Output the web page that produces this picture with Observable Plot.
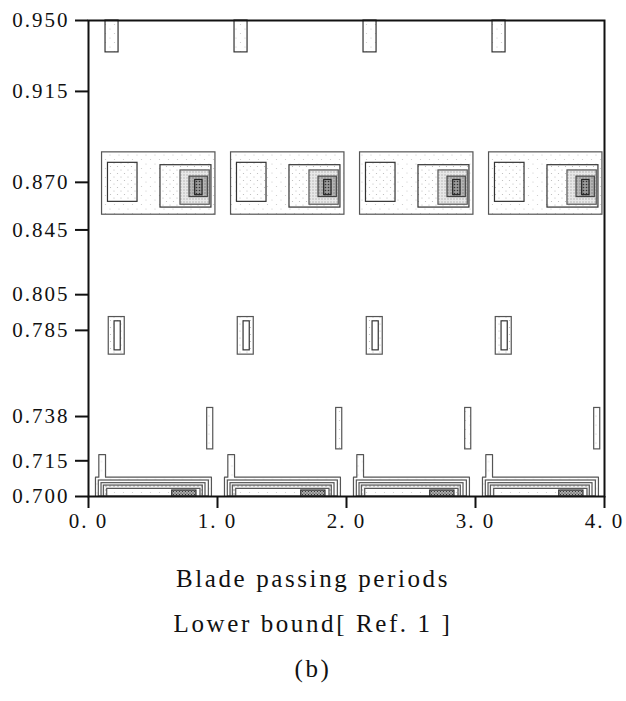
<!DOCTYPE html>
<html>
<head>
<meta charset="utf-8">
<script src="https://cdn.jsdelivr.net/npm/d3@7"></script>
<script src="https://cdn.jsdelivr.net/npm/@observablehq/plot@0.6"></script>
<style>
  html, body { margin: 0; padding: 0; background: #fff; }
  #chart svg { display: block; }
  #chart svg [aria-label="y-axis tick"] path,
  #chart svg [aria-label="x-axis tick"] path { stroke-width: 2px; }
  .cap { width: 626px; text-align: center; height: 45px; line-height: 45px;
         font-family: "Liberation Serif", serif; font-size: 25px; letter-spacing: 2.6px; color: #111; }
  #caps { margin-top: 16px; }
</style>
</head>
<body>
<div id="chart"></div>
<div id="caps">
  <div class="cap">Blade passing periods</div>
  <div class="cap">Lower bound[ Ref. 1 ]</div>
  <div class="cap">(b)</div>
</div>
<script>
// ---- Data ----
// Blade passing periods shown (start of each period)
const periods = [0, 1, 2, 3];

// x-axis ticks
const xTickValues = [0, 1, 2, 3, 4];
const xTickLabels = ["0. 0", "1. 0", "2. 0", "3. 0", "4. 0"];

// y-axis: labelled radii placed at their radial grid station (% of span, hub=0, top=100)
const yTickLabels  = ["0.700", "0.715", "0.738", "0.785", "0.805", "0.845", "0.870", "0.915", "0.950"];
const yTickStation = [0, 7.5, 16.8, 34.9, 42.4, 56.0, 66.0, 85.1, 100];

// Contour rectangles within one blade passing period:
// [phase start, phase end, station low, station high]
const tipContour     = [0.132, 0.233, 93.3, 100];
const midOuter       = [0.105, 0.984, 59.2, 72.3];
const midLeft        = [0.151, 0.380, 61.9, 70.1];
const midRight       = [0.558, 0.953, 60.7, 69.6];
const midLevel3      = [0.713, 0.940, 61.3, 68.5];
const midLevel4      = [0.783, 0.925, 62.9, 67.2];
const midPeak        = [0.827, 0.884, 63.3, 66.5];
const ringOuter      = [0.157, 0.281, 29.8, 37.7];
const ringInner      = [0.202, 0.250, 30.7, 36.8];
const thinBar        = [0.920, 0.967, 9.9, 18.6];
const hubLevel2      = [0.080, 0.933, 0, 3.36];
const hubLevel3      = [0.101, 0.907, 0, 2.8];
const hubLevel4      = [0.119, 0.886, 0, 2.3];
const hubLevel5      = [0.145, 0.868, 0, 1.6];
const hubPeak        = [0.649, 0.837, 0, 1.26];

// Outermost hub contour (polygon with the small spike), [phase, station]
const hubOuterPhase   = [0.054, 0.054, 0.080, 0.080, 0.132, 0.132, 0.953, 0.953];
const hubOuterStation = [0, 4.05, 4.05, 8.8, 8.8, 4.05, 4.05, 0];

// ---- Styles (kept apart from data) ----
const ink = "#333";
const rectStyles = [
  [tipContour, "url(#pDotsA)", ink],
  [midOuter,   "url(#pDotsA)", "#555"],
  [midLeft,    "url(#pDotsB)", ink],
  [midRight,   "url(#pDotsB)", ink],
  [midLevel3,  "url(#pFine)",  "#555"],
  [midLevel4,  "url(#pDark)",  "#444"],
  [midPeak,    "url(#pPeak)",  "#222"],
  [ringOuter,  "url(#pDotsB)", "#555"],
  [ringInner,  "#fff",         ink],
  [thinBar,    "url(#pDotsA)", "#555"],
  [hubLevel2,  "#fff",         "#555"],
  [hubLevel3,  "#fff",         "#555"],
  [hubLevel4,  "url(#pRow)",   "#555"],
  [hubLevel5,  "url(#pDotsA)", "#555"],
  [hubPeak,    "url(#pPeak2)", "#333"]
];

function rectData(r) {
  return periods.map(p => ({period: p, x1: p + r[0], x2: p + r[1], y1: r[2], y2: r[3]}));
}
const hubOuterData = periods.flatMap(p =>
  hubOuterPhase.map((ph, i) => ({period: p, x: p + ph, y: hubOuterStation[i]})));

const marks = [
  Plot.line(hubOuterData, {x: "x", y: "y", z: "period", curve: "linear-closed",
    fill: "url(#pDotsA)", stroke: "#555", strokeWidth: 1.2}),
  ...rectStyles.map(([r, fill, stroke]) =>
    Plot.rect(rectData(r), {x1: "x1", x2: "x2", y1: "y1", y2: "y2",
      fill, stroke, strokeWidth: 1.2})),
  Plot.frame({stroke: "#111", strokeWidth: 2})
];

const svg = Plot.plot({
  width: 626,
  height: 540,
  marginLeft: 88,
  marginRight: 22,
  marginTop: 20,
  marginBottom: 44,
  style: {fontFamily: "'Liberation Serif', serif", fontSize: "21px", color: "#111",
          background: "#fff", letterSpacing: "2px", overflow: "visible"},
  x: {domain: [0, 4], ticks: xTickValues, tickFormat: d => xTickLabels[xTickValues.indexOf(d)],
      tickSize: 12, tickPadding: 5, label: null},
  y: {domain: [0, 100], ticks: yTickStation, tickFormat: d => yTickLabels[yTickStation.indexOf(d)],
      tickSize: 13, tickPadding: 6, label: null},
  marks
});

// pattern definitions used as fills
const defs = d3.select(svg).insert("defs", ":first-child");
function pattern(id, size, bg, dots, r, dotColor) {
  const p = defs.append("pattern").attr("id", id).attr("patternUnits", "userSpaceOnUse")
    .attr("width", size).attr("height", size);
  p.append("rect").attr("width", size).attr("height", size).attr("fill", bg);
  dots.forEach(([cx, cy]) => p.append("circle").attr("cx", cx).attr("cy", cy).attr("r", r).attr("fill", dotColor));
}
pattern("pDotsA", 9, "#fff", [[2, 2], [6.5, 6.5]], 0.6, "#c8c8c8");
pattern("pDotsB", 7, "#fff", [[2, 2], [5.5, 5.5]], 0.6, "#b8b8b8");
pattern("pFine", 3, "#e8e8e8", [[1, 1]], 0.7, "#aaa");
pattern("pDark", 3, "#b5b5b5", [[1, 1]], 0.7, "#777");
pattern("pPeak", 3, "#999", [[1.5, 1.5]], 0.8, "#333");
pattern("pRow", 4, "#f2f2f2", [[2, 2]], 0.7, "#888");
pattern("pPeak2", 3, "#aaa", [[1, 1], [2.5, 2.5]], 0.6, "#333");

document.getElementById("chart").appendChild(svg);
</script>
</body>
</html>
